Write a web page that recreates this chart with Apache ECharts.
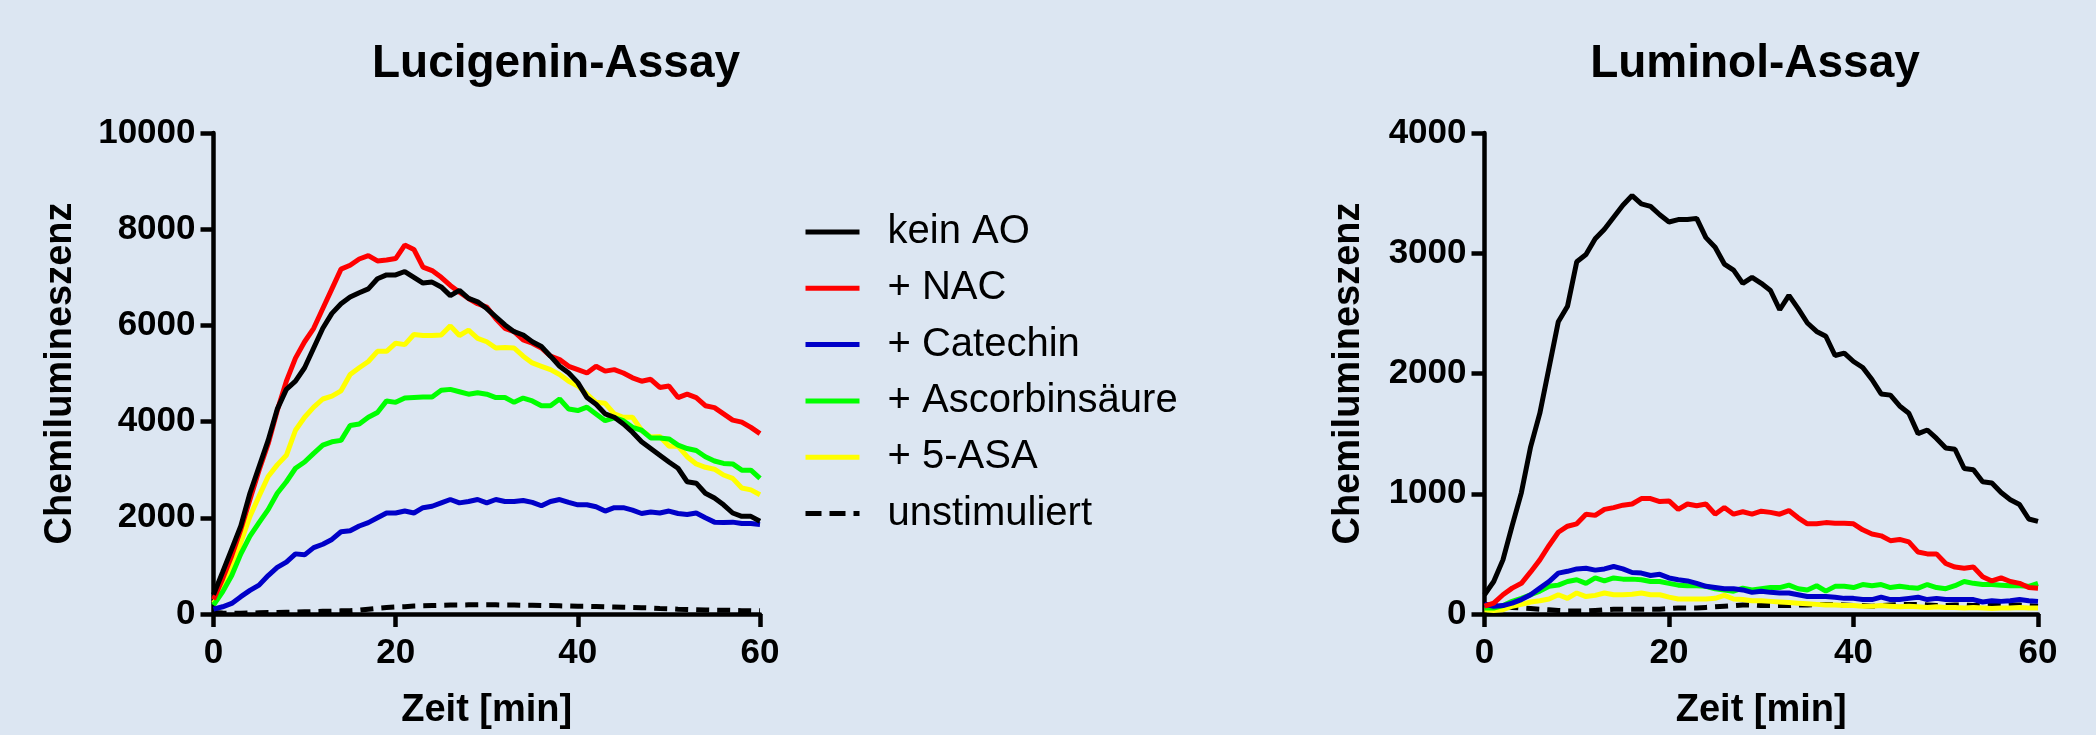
<!DOCTYPE html>
<html>
<head>
<meta charset="utf-8">
<script src="https://cdn.jsdelivr.net/npm/echarts@6/dist/echarts.min.js"></script>
<style>
html,body{margin:0;padding:0;background:#dce6f2;}
#c{width:2096px;height:735px;}
</style>
</head>
<body>
<div id="c"></div>
<script>
// ---- data ----
const minutes = [0,1,2,3,4,5,6,7,8,9,10,11,12,13,14,15,16,17,18,19,20,21,22,23,24,25,26,27,28,29,30,31,32,33,34,35,36,37,38,39,40,41,42,43,44,45,46,47,48,49,50,51,52,53,54,55,56,57,58,59,60];
const seriesNames = ['kein AO', '+ NAC', '+ Catechin', '+ Ascorbinsäure', '+ 5-ASA', 'unstimuliert'];
const xTicks = [0, 20, 40, 60];
const lucTicks = [0, 2000, 4000, 6000, 8000, 10000];
const lumTicks = [0, 1000, 2000, 3000, 4000];

// Lucigenin-Assay
const lucKeinAO = [400,870,1350,1830,2510,3060,3610,4260,4670,4840, 5120,5530,5940,6250,6450,6590,6680,6760,6970,7050, 7050,7120,7000,6880,6900,6800,6620,6730,6560,6490, 6350,6180,6010,5870,5800,5660,5560,5360,5150,5010, 4810,4500,4360,4160,4090,3950,3780,3580,3440,3300, 3160,3030,2750,2720,2510,2410,2270,2100,2030,2030,1930];
const lucNAC = [300,730,1210,1760,2380,2990,3540,4230,4840,5320, 5660,5940,6350,6760,7170,7250,7380,7450,7340,7360, 7390,7670,7580,7210,7140,7000,6830,6690,6560,6450, 6380,6140,5940,5870,5700,5630,5530,5360,5290,5150, 5080,5010,5150,5050,5080,5010,4910,4840,4880,4710, 4740,4500,4570,4500,4330,4290,4160,4030,3990,3880,3750];
const lucCatechin = [100,150,220,360,490,600,800,970,1080,1250, 1230,1380,1450,1550,1710,1730,1830,1900,2000,2100, 2100,2140,2100,2210,2240,2310,2380,2310,2340,2380, 2310,2380,2340,2340,2360,2320,2250,2340,2380,2320, 2270,2270,2230,2140,2210,2210,2160,2090,2120,2100, 2140,2090,2070,2100,2000,1910,1900,1910,1880,1880,1860];
const lucAscorbin = [185,460,800,1250,1620,1900,2170,2510,2750,3030, 3160,3340,3510,3580,3610,3920,3950,4090,4190,4430, 4400,4490,4500,4510,4510,4650,4670,4620,4570,4600, 4570,4500,4500,4400,4490,4430,4330,4330,4470,4260, 4230,4300,4160,4020,4080,4020,3880,3820,3660,3660, 3640,3510,3440,3400,3270,3180,3130,3120,2990,2990,2820];
const lucASA = [220,530,940,1490,2030,2450,2860,3100,3300,3820, 4090,4300,4470,4530,4640,4980,5120,5250,5460,5460, 5630,5600,5810,5790,5790,5800,5990,5790,5900,5730, 5660,5530,5540,5530,5360,5220,5150,5080,4980,4840, 4740,4570,4400,4380,4160,4090,4090,3820,3680,3690, 3490,3490,3270,3120,3050,3010,2890,2820,2620,2580,2480];
const lucUnstim = [30,20,15,15,20,25,30,30,35,40, 45,50,55,60,65,70,80,100,120,135, 145,150,165,170,175,180,185,185,190,190, 190,190,185,185,180,180,175,175,170,165, 160,160,155,150,145,140,135,130,125,115, 110,100,95,90,85,80,80,75,70,70,65];

// Luminol-Assay
const lumKeinAO = [160,270,450,735,1010,1390,1670,2050,2430,2560, 2930,2990,3120,3200,3300,3400,3480,3410,3390,3320, 3260,3280,3280,3290,3130,3050,2910,2860,2750,2800, 2750,2690,2530,2650,2540,2420,2350,2310,2150,2170, 2100,2050,1950,1830,1820,1730,1670,1500,1530,1460, 1380,1370,1210,1200,1100,1090,1010,950,910,790,770];
const lumNAC = [65,90,160,215,255,350,450,570,680,730, 750,830,820,870,885,905,915,960,960,935, 940,870,915,900,915,830,885,830,850,830, 855,845,830,860,800,750,750,760,755,755, 750,700,665,650,610,620,600,515,500,500, 420,390,380,390,310,275,300,270,255,220,215];
const lumCatechin = [80,65,70,90,120,160,215,270,340,355, 375,380,365,375,395,375,345,340,320,330, 300,285,275,255,230,220,210,210,200,180, 190,180,175,175,160,145,145,145,140,130, 130,120,120,140,120,120,130,140,120,130, 120,120,120,120,100,110,105,110,120,110,105];
const lumAscorbin = [50,50,70,105,130,160,190,230,240,270, 285,255,300,275,300,290,290,285,270,270, 255,240,235,235,230,210,200,190,215,200, 210,220,220,240,210,200,235,190,230,230, 220,245,235,245,220,230,220,215,245,220, 210,235,270,255,245,245,240,235,235,230,255];
const lumASA = [35,30,35,65,80,100,110,125,160,130, 175,145,155,175,160,160,165,175,160,160, 140,125,125,125,125,130,155,125,120,110, 110,105,100,95,90,85,80,75,75,70, 70,65,65,70,65,60,65,60,55,60, 55,55,50,55,50,45,50,50,55,50,50];
const lumUnstim = [80,70,60,55,50,45,40,35,30,25, 25,25,30,35,40,40,40,40,40,40, 45,50,50,50,55,60,65,70,75,75, 70,70,70,70,75,75,80,80,80,75, 70,70,65,70,75,80,80,80,75,70, 70,75,75,70,70,70,70,75,75,70,65];

// ---- styling ----
const FONT = '"Liberation Sans", Arial, Helvetica, sans-serif';
const colors = ['#000000', '#ff0000', '#0000c8', '#00ff00', '#ffff00', '#000000'];
const lucData = [lucKeinAO, lucNAC, lucCatechin, lucAscorbin, lucASA, lucUnstim];
const lumData = [lumKeinAO, lumNAC, lumCatechin, lumAscorbin, lumASA, lumUnstim];

function pairs(arr) { return minutes.map((m, i) => [m, arr[i]]); }

function makeSeries(dataSets, idx) {
  return dataSets.map((d, i) => ({
    name: seriesNames[i],
    type: 'line',
    xAxisIndex: idx, yAxisIndex: idx,
    data: pairs(d),
    symbol: 'none',
    showSymbol: false,
    animation: false,
    z: 10 - i,
    lineStyle: { color: colors[i], width: 5, type: i === 5 ? [13, 8] : 'solid' },
    itemStyle: { color: colors[i] }
  }));
}

const axisCommon = {
  axisLine: { show: true, lineStyle: { color: '#000', width: 4.5 } },
  axisTick: { show: true, inside: false, length: 13, lineStyle: { color: '#000', width: 4.5 } },
  splitLine: { show: false },
  axisLabel: { color: '#000', fontFamily: FONT, fontWeight: 'bold', fontSize: 35,
               formatter: v => String(v) },
  nameTextStyle: { color: '#000', fontFamily: FONT, fontWeight: 'bold', fontSize: 38 }
};

function xAxis(gridIndex) {
  return Object.assign({}, axisCommon, {
    type: 'value', gridIndex, min: xTicks[0], max: xTicks[xTicks.length - 1],
    interval: xTicks[1] - xTicks[0],
    name: 'Zeit [min]', nameLocation: 'middle', nameGap: 78,
    axisLabel: Object.assign({}, axisCommon.axisLabel, { margin: 22 })
  });
}
function yAxis(gridIndex, ticks, gap) {
  return Object.assign({}, axisCommon, {
    type: 'value', gridIndex, min: ticks[0], max: ticks[ticks.length - 1],
    interval: ticks[1] - ticks[0],
    name: 'Chemilumineszenz', nameLocation: 'middle', nameGap: gap,
    axisLabel: Object.assign({}, axisCommon.axisLabel, { margin: 18 })
  });
}

const legendData = seriesNames.map((n, i) => ({
  name: n,
  itemStyle: { opacity: 0 },
  lineStyle: { width: 5, color: colors[i], type: i === 5 ? [16, 8] : 'solid' }
}));

const chart = echarts.init(document.getElementById('c'), null, { renderer: 'canvas' });
chart.setOption({
  backgroundColor: '#dce6f2',
  animation: false,
  title: [
    { text: 'Lucigenin-Assay', left: 556, top: 41, textAlign: 'center', padding: 0,
      textStyle: { fontFamily: FONT, fontWeight: 'bold', fontSize: 46, color: '#000' } },
    { text: 'Luminol-Assay', left: 1755, top: 41, textAlign: 'center', padding: 0,
      textStyle: { fontFamily: FONT, fontWeight: 'bold', fontSize: 46, color: '#000' } }
  ],
  legend: {
    orient: 'vertical', left: 803, top: 212, padding: 0,
    itemWidth: 54, itemHeight: 14, itemGap: 16.3,
    data: legendData,
    itemStyle: { opacity: 0 },
    textStyle: { fontFamily: FONT, fontSize: 40, color: '#000', padding: [0, 0, 0, 23] }
  },
  grid: [
    { left: 213.5, top: 133, width: 546.5, height: 486 },
    { left: 1484.5, top: 133, width: 553.5, height: 486.5 }
  ],
  xAxis: [xAxis(0), xAxis(1)],
  yAxis: [yAxis(0, lucTicks, 134), yAxis(1, lumTicks, 117)],
  series: makeSeries(lucData, 0).concat(makeSeries(lumData, 1))
});
</script>
</body>
</html>
